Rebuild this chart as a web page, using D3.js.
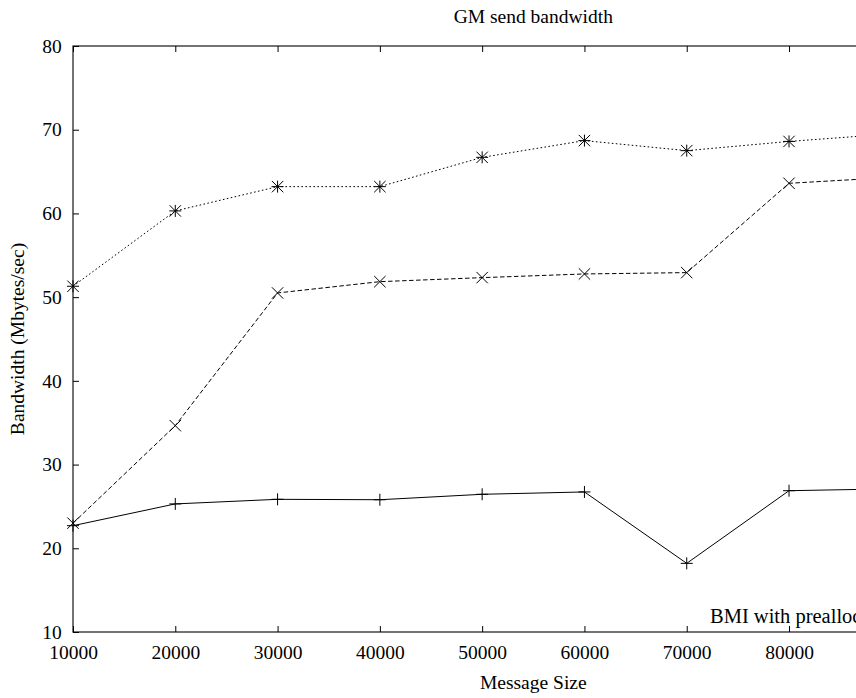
<!DOCTYPE html>
<html>
<head>
<meta charset="utf-8">
<script src="https://cdn.jsdelivr.net/npm/d3@7"></script>
<style>
  html, body { margin: 0; padding: 0; background: #fff; }
  svg { display: block; }
  text { font-family: "Liberation Serif", "Times New Roman", serif; fill: #000; }
</style>
</head>
<body>
<svg id="chart" width="856" height="698"></svg>
<script>
// Message sizes (bytes) and measured send bandwidth (Mbytes/sec)
const messageSizes = [10000, 20000, 30000, 40000, 50000, 60000, 70000, 80000, 90000];
const seriesStar  = [51.3, 60.3, 63.2, 63.2, 66.7, 68.7, 67.5, 68.6, 69.5];
const seriesCross = [23.0, 34.65, 50.5, 51.85, 52.33, 52.77, 52.93, 63.6, 64.3];
const seriesPlus  = [22.7, 25.3, 25.85, 25.8, 26.45, 26.73, 18.2, 26.88, 27.1];

const xTicks = [10000, 20000, 30000, 40000, 50000, 60000, 70000, 80000, 90000, 100000];
const xTickLabels = ["10000", "20000", "30000", "40000", "50000", "60000", "70000", "80000"];
const yTicks = [10, 20, 30, 40, 50, 60, 70, 80];

const chartTitle = "GM send bandwidth";
const xTitle = "Message Size";
const yTitle = "Bandwidth (Mbytes/sec)";
const keyTitle = "BMI with preallocation";

const svg = d3.select("#chart");
const fontSize = 19.5;

const plot = { left: 73, right: 993.6, top: 46, bottom: 632 };

const x = d3.scaleLinear().domain([10000, 100000]).range([plot.left, plot.right]);
const y = d3.scaleLinear().domain([10, 80]).range([plot.bottom, plot.top]);

// Frame
svg.append("rect")
  .attr("x", plot.left).attr("y", plot.top)
  .attr("width", plot.right - plot.left).attr("height", plot.bottom - plot.top)
  .attr("fill", "none").attr("stroke", "#000").attr("stroke-width", 1.1);

function styleAxis(g, withLabels) {
  g.select(".domain").remove();
  g.selectAll(".tick line").attr("stroke", "#000").attr("stroke-width", 1);
  g.selectAll(".tick text")
    .style("font-size", fontSize + "px")
    .attr("fill", "#000");
  if (!withLabels) g.selectAll(".tick text").remove();
}

// Bottom axis: inward ticks; labels only where the page shows them
svg.append("g")
  .attr("transform", `translate(0,${plot.bottom})`)
  .call(d3.axisBottom(x).tickValues(xTicks)
        .tickFormat(d => xTickLabels.includes(String(d)) ? String(d) : "")
        .tickSizeInner(-6).tickSizeOuter(0).tickPadding(13))
  .call(g => styleAxis(g, true))
  .call(g => g.selectAll(".tick text").filter(function () { return this.textContent === ""; }).remove());

// Top axis: mirrored ticks
svg.append("g")
  .attr("transform", `translate(0,${plot.top})`)
  .call(d3.axisTop(x).tickValues(xTicks).tickSizeInner(-6).tickSizeOuter(0))
  .call(g => styleAxis(g, false));

// Left axis: inward ticks with labels
svg.append("g")
  .attr("transform", `translate(${plot.left},0)`)
  .call(d3.axisLeft(y).tickValues(yTicks).tickFormat(d3.format("d"))
        .tickSizeInner(-6).tickSizeOuter(0).tickPadding(11.3))
  .call(g => styleAxis(g, true));

// Right axis: mirrored ticks
svg.append("g")
  .attr("transform", `translate(${plot.right},0)`)
  .call(d3.axisRight(y).tickValues(yTicks).tickSizeInner(-6).tickSizeOuter(0))
  .call(g => styleAxis(g, false));

// Titles
svg.append("text")
  .attr("x", (plot.left + plot.right) / 2).attr("y", 23.3)
  .attr("text-anchor", "middle").style("font-size", fontSize + "px")
  .text(chartTitle);

svg.append("text")
  .attr("x", (plot.left + plot.right) / 2).attr("y", 689)
  .attr("text-anchor", "middle").style("font-size", fontSize + "px")
  .text(xTitle);

svg.append("text")
  .attr("transform", `translate(24,${(plot.top + plot.bottom) / 2}) rotate(-90)`)
  .attr("text-anchor", "middle").style("font-size", fontSize + "px")
  .text(yTitle);

// Key entry
svg.append("text")
  .attr("x", 710).attr("y", 622.7)
  .style("font-size", "20.5px")
  .text(keyTitle);

// Series
const line = d3.line().x(d => x(d[0])).y(d => y(d[1]));
const pairs = vals => messageSizes.map((m, i) => [m, vals[i]]);

const series = [
  { values: seriesStar,  dash: "1.6,2.4", marker: "star" },
  { values: seriesCross, dash: "4.5,2.5", marker: "cross" },
  { values: seriesPlus,  dash: null,      marker: "plus" }
];

const r = 6;
function drawMarker(g, type, cx, cy) {
  const p = d3.path();
  if (type === "plus" || type === "star") {
    p.moveTo(cx - r, cy); p.lineTo(cx + r, cy);
    p.moveTo(cx, cy - r); p.lineTo(cx, cy + r);
  }
  if (type === "cross" || type === "star") {
    const k = r * 0.95;
    p.moveTo(cx - k, cy - k); p.lineTo(cx + k, cy + k);
    p.moveTo(cx - k, cy + k); p.lineTo(cx + k, cy - k);
  }
  g.append("path").attr("d", p.toString())
    .attr("stroke", "#000").attr("stroke-width", 1).attr("fill", "none");
}

series.forEach(s => {
  const data = pairs(s.values);
  const g = svg.append("g");
  g.append("path")
    .datum(data)
    .attr("d", line)
    .attr("fill", "none")
    .attr("stroke", "#000")
    .attr("stroke-width", 1)
    .attr("stroke-dasharray", s.dash);
  data.forEach(d => drawMarker(g, s.marker, x(d[0]), y(d[1])));
});
</script>
</body>
</html>
